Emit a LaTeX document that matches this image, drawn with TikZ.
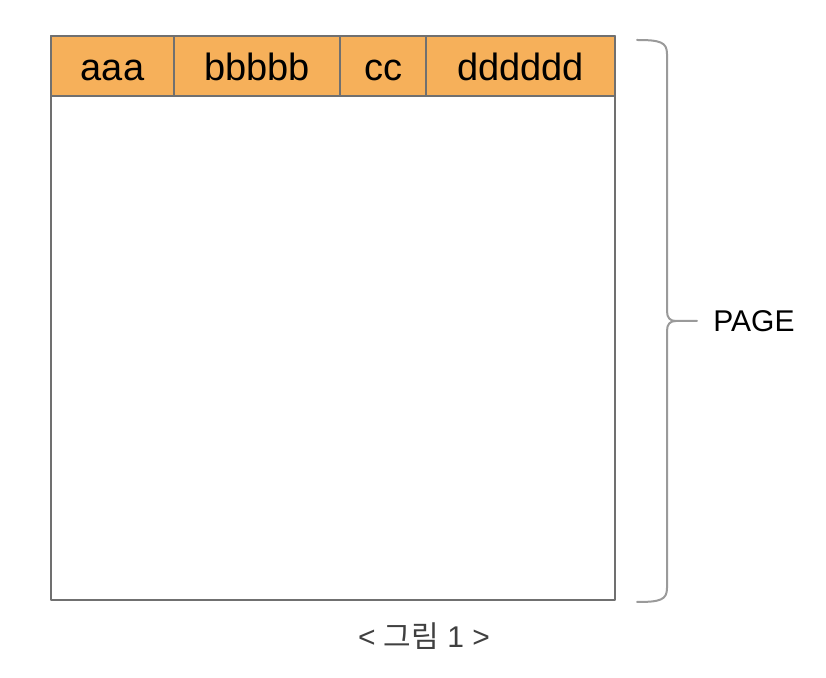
\documentclass[tikz,border=0pt]{standalone}
\usepackage{fontspec}
\setmainfont{Liberation Sans}
\newfontfamily\krfont{Noto Sans CJK KR}
\usetikzlibrary{positioning}
\definecolor{hdrorange}{HTML}{F6B05A}
\definecolor{edgegray}{HTML}{707070}
\definecolor{bracegray}{HTML}{9A9A9A}
\definecolor{capgray}{HTML}{404040}
\tikzset{
  cell/.style={rectangle,draw=edgegray,fill=hdrorange,line width=0.75pt,minimum height=30pt,
               inner sep=0pt,outer sep=0pt,text height=14.5pt,text depth=0pt,
               font=\fontsize{19}{22}\selectfont},
  every picture/.style={line cap=round,line join=round}}

\begin{document}
\begin{tikzpicture}[x=0.5pt,y=-0.5pt]
  \useasboundingbox (0,0) rectangle (826,678);
  \node[draw=edgegray,line width=0.75pt,minimum width=282pt,minimum height=282pt,inner sep=0pt,
        outer sep=0pt,anchor=north west] (pg) at (51,36) {};
  \node[cell,minimum width=61.5pt,anchor=north west] (ca) at (51,36) {aaa};
  \node[cell,minimum width=83pt,right=0pt of ca] (cb) {bbbbb};
  \node[cell,minimum width=43pt,right=0pt of cb] (cc) {cc};
  \node[cell,minimum width=94.5pt,right=0pt of cc] (cd) {dddddd};
  % brace beside the page
  \coordinate (tip) at (697,321);
  \draw[bracegray,line width=1pt] (637,40) .. controls (660,40) and (667,42) .. (667,54) -- (667,311)
    .. controls (667,318) and (670,321) .. (676,321) -- (tip)
    (676,321) .. controls (670,321) and (667,324) .. (667,331) -- (667,588)
    .. controls (667,600) and (660,602) .. (637,602);
  \node[inner sep=0pt,anchor=west,font=\fontsize{15}{18}\selectfont] (lbl) at (713,321) {PAGE};
  \node[text=capgray,inner sep=0pt,font=\fontsize{15}{18}\selectfont] (cap) at (424,636)
    {<\ {\krfont 그림} 1 >};
\end{tikzpicture}
\end{document}
